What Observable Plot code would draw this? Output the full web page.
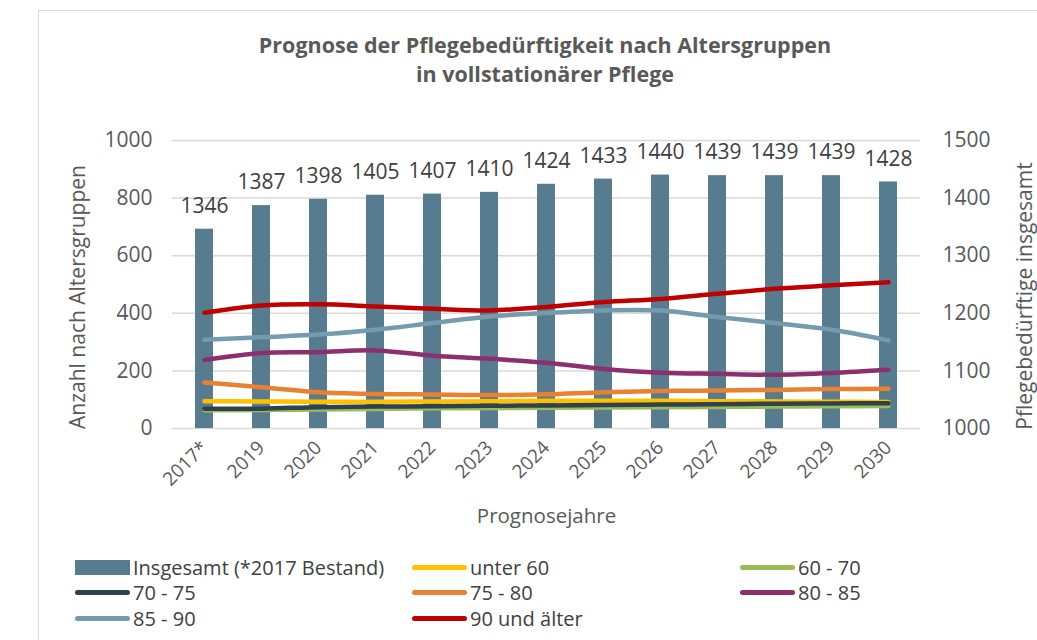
<!DOCTYPE html>
<html>
<head>
<meta charset="utf-8">
<script src="https://cdn.jsdelivr.net/npm/d3@7"></script>
<script src="https://cdn.jsdelivr.net/npm/@observablehq/plot@0.6"></script>
<style>
  html, body { margin: 0; padding: 0; background: #fff; }
  body { width: 1037px; height: 640px; position: relative; overflow: hidden; font-family: "Open Sans", sans-serif; color: #595959; }
  #frame { position: absolute; left: 38px; top: 10px; width: 1100px; height: 700px; border-left: 1.5px solid #d9d9d9; border-top: 1.5px solid #d9d9d9; }
  #title { position: absolute; left: 0; width: 1090px; top: 30px; text-align: center; font-weight: bold; font-size: 21.5px; line-height: 29px; color: #595959; }
  #chart { position: absolute; left: 0; top: 0; }
  .ytitle { position: absolute; font-size: 21px; color: #595959; white-space: nowrap; transform-origin: center center; }
  #legend { position: absolute; left: 0; top: 0; }
  .li { position: absolute; display: flex; align-items: center; font-size: 20px; color: #404040; white-space: nowrap; }
  .sw { display: inline-block; margin-right: 3px; }
</style>
</head>
<body>
<div id="frame"></div>
<div id="chart"></div>
<div id="title">Prognose der Pflegebedürftigkeit nach Altersgruppen<br>in vollstationärer Pflege</div>
<div class="ytitle" id="ytl">Anzahl nach Altersgruppen</div>
<div class="ytitle" id="ytr">Pflegebedürftige insgesamt</div>
<div id="legend"></div>
<script>
// ---- data ----
const years = ["2017*", "2019", "2020", "2021", "2022", "2023", "2024", "2025", "2026", "2027", "2028", "2029", "2030"];
const insgesamt = [1346, 1387, 1398, 1405, 1407, 1410, 1424, 1433, 1440, 1439, 1439, 1439, 1428];
const unter60   = [95, 94, 93, 93, 94, 95, 96, 96, 96, 95, 94, 93, 92];
const a60_70    = [63, 64, 66, 68, 70, 71, 72, 73, 74, 75, 76, 77, 78];
const a70_75    = [69, 69, 74, 76, 77, 79, 80, 82, 83, 84, 86, 87, 88];
const a75_80    = [160, 143, 126, 120, 118, 116, 119, 126, 130, 132, 134, 137, 138];
const a80_85    = [238, 262, 265, 271, 253, 242, 228, 207, 194, 190, 187, 193, 204];
const a85_90    = [308, 317, 326, 343, 366, 389, 401, 410, 410, 387, 366, 343, 306];
const a90plus   = [402, 427, 431, 424, 416, 410, 422, 439, 450, 468, 485, 497, 508];
const seriesNames = ["unter 60", "60 - 70", "70 - 75", "75 - 80", "80 - 85", "85 - 90", "90 und älter"];
const seriesValues = [unter60, a60_70, a70_75, a75_80, a80_85, a85_90, a90plus];
const seriesColors = ["#ffc000", "#9bbb59", "#2e414c", "#ea8130", "#8c2f6e", "#759cae", "#c00000"];
const barName = "Insgesamt (*2017 Bestand)";
const barColor = "#587c8f";
const leftTicks = [0, 200, 400, 600, 800, 1000];
const rightTicks = [1000, 1100, 1200, 1300, 1400, 1500];

// ---- build tables ----
const rightMin = 1000, rightMax = 1500;
const toLeft = v => (v - rightMin) / (rightMax - rightMin) * 1000;
const bars = years.map((y, i) => ({year: y, total: insgesamt[i]}));
const lines = [];
seriesNames.forEach((name, s) => years.forEach((y, i) => lines.push({series: name, year: y, value: seriesValues[s][i]})));

const font = "Open Sans, sans-serif";
const chart = Plot.plot({
  width: 1037,
  height: 545,
  marginTop: 140,
  marginBottom: 117,
  marginLeft: 172,
  marginRight: 117,
  style: {fontFamily: font, color: "#595959", background: "transparent", overflow: "visible"},
  x: {domain: years, paddingInner: 0.6875, paddingOuter: 0.344, axis: null},
  y: {domain: [0, 1000], axis: null},
  marks: [
    Plot.ruleY(leftTicks, {stroke: "#d9d9d9", strokeWidth: 1.5}),
    Plot.axisY({anchor: "left", ticks: leftTicks, tickFormat: d => String(d), tickSize: 0, tickPadding: 20, fontSize: 21, fill: "#595959", label: null}),
    Plot.axisY({anchor: "right", ticks: rightTicks.map(toLeft), tickFormat: (d, i) => String(rightTicks[i]), tickSize: 0, tickPadding: 22, fontSize: 21, fill: "#595959", label: null}),
    Plot.axisX({tickRotate: -45, tickSize: 0, tickPadding: 16, fontSize: 19, fill: "#595959", label: null}),
    Plot.barY(bars, {x: "year", y1: 0, y2: d => toLeft(d.total), fill: barColor}),
    Plot.text(bars, {x: "year", y: d => toLeft(d.total), text: d => String(d.total), dy: -23, fontSize: 21, fill: "#404040"}),
    Plot.line(lines, {x: "year", y: "value", z: "series", stroke: d => seriesColors[seriesNames.indexOf(d.series)], strokeWidth: 4.5, curve: "catmull-rom", strokeLinecap: "round"}),
    Plot.text(["Prognosejahre"], {frameAnchor: "bottom", dy: 94, fontSize: 20.5, fill: "#595959"})
  ]
});
document.getElementById("chart").appendChild(chart);

// axis titles (rotated)
function placeY(id, cx, cy) {
  const el = document.getElementById(id);
  const w = el.offsetWidth, h = el.offsetHeight;
  el.style.left = (cx - w / 2) + "px";
  el.style.top = (cy - h / 2) + "px";
  el.style.transform = "rotate(-90deg)";
}
placeY("ytl", 77, 297);
placeY("ytr", 1023, 296);

// legend
const legend = document.getElementById("legend");
const items = [{name: barName, color: barColor, bar: true}].concat(seriesNames.map((n, i) => ({name: n, color: seriesColors[i]})));
const order = [barName, "unter 60", "60 - 70", "70 - 75", "75 - 80", "80 - 85", "85 - 90", "90 und älter"];
const colX = [75, 412, 740];
const rowY = [567, 592, 618];
order.forEach((name, k) => {
  const it = items.find(d => d.name === name);
  const div = document.createElement("div");
  div.className = "li";
  div.style.left = colX[k % 3] + "px";
  div.style.top = (rowY[Math.floor(k / 3)] - 13) + "px";
  div.style.height = "26px";
  const sw = document.createElement("span");
  sw.className = "sw";
  sw.style.width = "55px";
  sw.style.height = it.bar ? "15px" : "5px";
  sw.style.borderRadius = it.bar ? "0" : "3px";
  sw.style.background = it.color;
  div.appendChild(sw);
  const t = document.createElement("span");
  t.textContent = it.name;
  div.appendChild(t);
  legend.appendChild(div);
});
</script>
</body>
</html>
